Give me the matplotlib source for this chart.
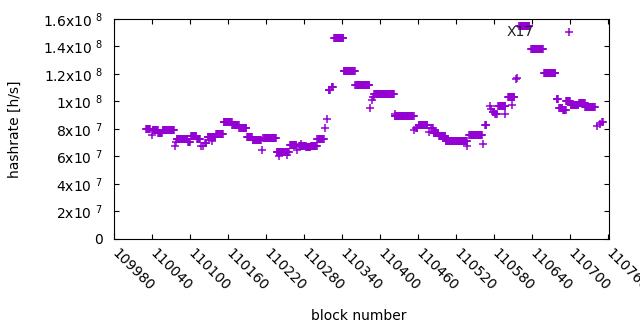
import numpy as np
import matplotlib
matplotlib.use("Agg")
import matplotlib.pyplot as plt
import matplotlib.transforms as mtransforms

# runs of blocks sharing one hashrate estimate (start block, end block, hashrate in 1e6 h/s)
run_start = [110031, 110040, 110041, 110050, 110057, 110077, 110078, 110079, 110097, 110102,
             110111, 110117, 110121, 110124, 110128, 110135, 110141, 110153, 110167, 110178,
             110190, 110199, 110214, 110216, 110237, 110240, 110254, 110258, 110269, 110272,
             110275, 110284, 110291, 110301, 110313, 110317, 110319, 110324, 110328, 110343,
             110361, 110385, 110388, 110389, 110391, 110423, 110424, 110454, 110457, 110461,
             110478, 110481, 110485, 110493, 110504, 110538, 110541, 110563, 110566, 110573,
             110575, 110578, 110582, 110587, 110598, 110602, 110609, 110615, 110617, 110620,
             110639, 110659, 110679, 110683, 110689, 110694, 110698, 110701, 110714, 110724,
             110743, 110747, 110751]
run_end = [110037, 110040, 110049, 110056, 110075, 110077, 110078, 110096, 110100, 110110,
           110116, 110117, 110121, 110126, 110140, 110135, 110152, 110166, 110177, 110189,
           110198, 110212, 110214, 110236, 110256, 110240, 110254, 110268, 110269, 110283,
           110275, 110290, 110300, 110311, 110313, 110317, 110321, 110326, 110342, 110360,
           110383, 110385, 110388, 110390, 110422, 110453, 110424, 110454, 110459, 110475,
           110478, 110483, 110492, 110503, 110537, 110538, 110561, 110563, 110568, 110573,
           110575, 110580, 110584, 110598, 110598, 110612, 110609, 110615, 110617, 110636,
           110657, 110677, 110681, 110688, 110693, 110700, 110698, 110713, 110723, 110739,
           110743, 110747, 110752]
run_value = [80.2, 75.6, 79.3, 76.9, 79.3, 67.9, 70.8, 72.5, 70.8, 75.1,
             72.5, 67.9, 67.2, 70.0, 74.0, 71.5, 76.1, 84.9, 82.7, 80.5,
             74.0, 71.8, 65.0, 73.2, 63.5, 60.4, 61.1, 68.1, 65.0, 67.2,
             69.1, 66.7, 67.9, 72.7, 80.5, 87.3, 107.9, 110.3, 146.0, 122.0,
             111.8, 95.5, 101.1, 102.8, 105.2, 89.5, 90.9, 79.3, 80.5, 82.9,
             78.0, 80.5, 77.3, 75.1, 71.1, 67.6, 75.4, 69.1, 82.9, 96.7,
             94.8, 92.6, 90.9, 96.7, 90.9, 103.1, 97.0, 116.4, 117.3, 154.9,
             138.0, 120.5, 101.6, 95.5, 93.9, 100.4, 150.3, 97.5, 98.7, 95.8,
             82.2, 83.6, 85.3]

x_ticks = list(range(109980, 110761, 60))
y_ticks = [0, 2e7, 4e7, 6e7, 8e7, 1e8, 1.2e8, 1.4e8, 1.6e8]
y_labels = ["0", "2x10 $^{7}$", "4x10 $^{7}$", "6x10 $^{7}$", "8x10 $^{7}$",
            "1x10 $^{8}$", "1.2x10 $^{8}$", "1.4x10 $^{8}$", "1.6x10 $^{8}$"]

plt.rcParams["font.family"] = ["DejaVu Sans"]
plt.rcParams["mathtext.default"] = "regular"
plt.rcParams["font.size"] = 10

blocks, rates = [], []
for s, e, v in zip(run_start, run_end, run_value):
    for b in range(s, e + 1):
        blocks.append(b)
        rates.append(v * 1e6)

fig = plt.figure(figsize=(6.4, 3.3), dpi=100)
ax = fig.add_axes([0.178, 0.276, 0.774, 0.667])
ax.plot(blocks, rates, linestyle="none", marker="+", color="#9400d3",
        markersize=5.3, markeredgewidth=1.1)

ax.text(110600, 1.505e8, "X17", ha="left", va="center", color="#202020")

ax.set_xlim(109980, 110762)
ax.set_ylim(0, 1.6e8)
ax.set_xticks(x_ticks)
ax.set_xticklabels([str(t) for t in x_ticks], rotation=-45, ha="left", va="top",
                   rotation_mode="anchor")
ax.set_yticks(y_ticks)
ax.set_yticklabels(y_labels)
ax.tick_params(direction="in", length=3.5, width=0.8, top=True, right=True)
ax.tick_params(axis="x", pad=5)
ax.tick_params(axis="y", pad=8)
for sp in ax.spines.values():
    sp.set_linewidth(0.8)

# nudge rotated labels so they start at their tick
shift = mtransforms.ScaledTranslation(5 / 100, 0, fig.dpi_scale_trans)
for lab in ax.get_xticklabels():
    lab.set_transform(lab.get_transform() + shift)

fig.text(0.023, 0.609, "hashrate [h/s]", rotation=90, ha="center", va="center")
fig.text(0.56, 0.042, "block number", ha="center", va="center")

fig.savefig("out.png", dpi=100)
